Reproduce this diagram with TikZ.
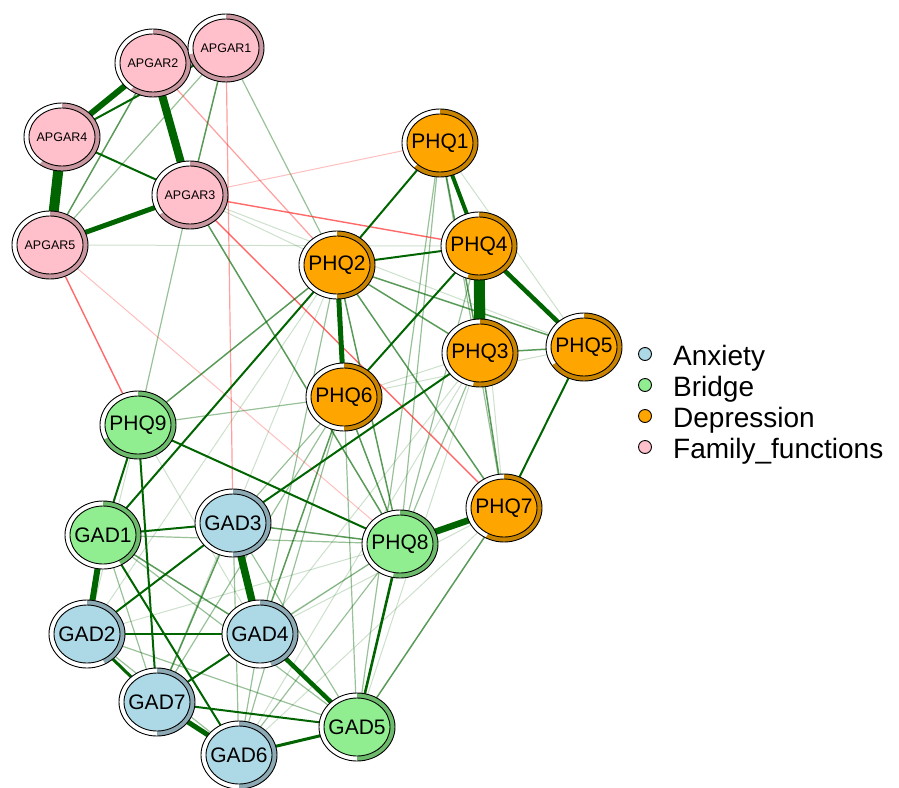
\documentclass[tikz,border=0pt]{standalone}
\usepackage{fontspec}
\setmainfont{Liberation Sans}
\usetikzlibrary{shapes.geometric,backgrounds}
\definecolor{posgreen}{HTML}{006400}
\definecolor{negred}{HTML}{FF2A2A}
\definecolor{anxfill}{HTML}{ADD8E6}
\definecolor{anxring}{HTML}{8CA9B4}
\definecolor{brgfill}{HTML}{90EE90}
\definecolor{brgring}{HTML}{6DBA6D}
\definecolor{depfill}{HTML}{FFA500}
\definecolor{depring}{HTML}{C88400}
\definecolor{famfill}{HTML}{FFC0CB}
\definecolor{famring}{HTML}{C8979F}
\tikzset{
  symptom/.style={ellipse, draw, line width=0.9pt, minimum width=66pt,
    minimum height=58pt, inner sep=0pt, font=\fontsize{21}{21}\selectfont},
  apgar/.style={font=\fontsize{12.5}{12.5}\selectfont},
  posedge/.style={draw=posgreen},
  e1/.style={posedge, line width=2pt},
  e2/.style={posedge, line width=1.5pt, draw opacity=.65},
  e3/.style={posedge, line width=1.2pt, draw opacity=.4},
  e4/.style={posedge, line width=1pt, draw opacity=.2},
  negedge/.style={draw=negred},
  n1/.style={negedge, line width=1.4pt, draw opacity=.7},
  n2/.style={negedge, line width=1.2pt, draw opacity=.45},
  n3/.style={negedge, line width=1pt, draw opacity=.3},
  legdot/.style={circle, draw, line width=0.9pt, minimum size=13pt, inner sep=0pt},
  legtext/.style={anchor=base west, inner sep=0pt, font=\fontsize{28}{28}\selectfont}
}
% name, x, y, label, group, share, extra
\newcommand\pienode[7]{%
  \fill[white] (#2,#3) ellipse [x radius=38pt, y radius=34pt];
  \fill[#5ring] (#2,#3) -- (#2,#3+34) arc[start angle=90, delta angle=-360*#6,
    x radius=38pt, y radius=34pt] -- cycle;
  \draw[line width=0.9pt] (#2,#3) ellipse [x radius=38pt, y radius=34pt];
  \node[symptom, fill=#5fill, #7] (#1) at (#2,#3) {\makebox[0pt]{#4}};
}

\begin{document}
\begin{tikzpicture}[x=1pt, y=1pt]
\useasboundingbox (0,0) rectangle (899,-787);

% family functions
\pienode{A2}{153}{-63}{APGAR2}{fam}{.6}{apgar}
\pienode{A1}{226}{-48}{APGAR1}{fam}{.72}{apgar}
\pienode{A4}{62}{-137}{APGAR4}{fam}{.6}{apgar}
\pienode{A3}{190}{-195}{APGAR3}{fam}{.65}{apgar}
\pienode{A5}{50}{-245}{APGAR5}{fam}{.6}{apgar}

% depression
\pienode{P1}{440}{-143}{PHQ1}{dep}{.62}{}
\pienode{P4}{479}{-246}{PHQ4}{dep}{.55}{}
\pienode{P2}{337}{-265}{PHQ2}{dep}{.5}{}
\pienode{P3}{480}{-353}{PHQ3}{dep}{.53}{}
\pienode{P5}{584}{-347}{PHQ5}{dep}{.66}{}
\pienode{P6}{344}{-397}{PHQ6}{dep}{.5}{}
\pienode{P7}{504}{-508}{PHQ7}{dep}{.58}{}

% bridge
\pienode{P9}{138}{-425}{PHQ9}{brg}{.68}{}
\pienode{P8}{400}{-544}{PHQ8}{brg}{.53}{}
\pienode{G1}{103}{-535}{GAD1}{brg}{.42}{}
\pienode{G5}{357}{-727}{GAD5}{brg}{.5}{}

% anxiety
\pienode{G3}{233}{-523}{GAD3}{anx}{.5}{}
\pienode{G2}{87}{-634}{GAD2}{anx}{.42}{}
\pienode{G4}{260}{-634}{GAD4}{anx}{.45}{}
\pienode{G7}{157}{-702}{GAD7}{anx}{.5}{}
\pienode{G6}{239}{-755}{GAD6}{anx}{.5}{}

\begin{pgfonlayer}{background}
% faintest
\foreach \a/\b in {A5/P4, A3/P2, A3/P5, P1/P5, P2/G2, P2/G7, P3/P6, P3/G4,
  P3/G6, P3/G5, P5/P6, P4/P7, P9/G4, P9/G2, P7/G4, P7/G6, P8/G7, P8/G2}
  \draw[e4] (\a) -- (\b);
% faint
\foreach \a/\b in {A5/A1, A1/P2, A3/P9, P1/P8, P1/G5, P1/P7, P2/G4, P3/P8,
  P4/P8, P6/P9, P6/G6, P6/G7, P6/G3, P6/G5, P8/G1, P8/G4, P8/G6, G1/G7,
  G1/G5, G3/G6, G3/G5, G2/G6, G2/G5, G4/G6}
  \draw[e3] (\a) -- (\b);
% negative
\foreach \a/\b in {A3/P1, A5/P8}
  \draw[n3] (\a) -- (\b);
\foreach \a/\b in {A1/G3, A2/P2}
  \draw[n2] (\a) -- (\b);
\foreach \a/\b in {A3/P4, A3/P7, A5/P9}
  \draw[n1] (\a) -- (\b);
% light
\foreach \a/\b in {A3/A1, A5/A2, A3/P8, P1/P3, P3/P5, P3/P7, P2/P5, P2/P3,
  P2/P7, P2/P9, P2/P8, P6/P8, P6/G4, P7/G5, P8/G3, G1/G4, G3/G7}
  \draw[e2] (\a) -- (\b);
% medium
\foreach \a/\b in {A4/A3, A4/A1, P1/P2, P2/P4, P4/P6, P3/G3, P5/P7, P2/G1,
  P9/G1, P9/G7, P9/P8, G1/G3, G1/G6, G3/G2, G2/G4, G4/G7, G7/G5}
  \draw[e1] (\a) -- (\b);
% strongest
\draw[posedge, line width=2.6pt] (P8) -- (G5);
\draw[posedge, line width=3pt] (G6) -- (G5);
\draw[posedge, line width=3pt] (G2) -- (G7);
\draw[posedge, line width=4pt] (P1) -- (P4);
\draw[posedge, line width=4.5pt] (P4) -- (P5);
\draw[posedge, line width=5pt] (P2) -- (P6);
\draw[posedge, line width=4.5pt] (G4) -- (G5);
\draw[posedge, line width=5pt] (G7) -- (G6);
\draw[posedge, line width=5pt] (A3) -- (A5);
\draw[posedge, line width=6pt] (A2) -- (A4);
\draw[posedge, line width=6.5pt] (P7) -- (P8);
\draw[posedge, line width=6pt] (G1) -- (G2);
\draw[posedge, line width=7.5pt] (G3) -- (G4);
\draw[posedge, line width=8pt] (A2) -- (A3);
\draw[posedge, line width=10pt] (A4) -- (A5);
\draw[posedge, line width=11pt] (P4) -- (P3);
\end{pgfonlayer}

% legend
\node[legdot, fill=anxfill] (lanx) at (645,-354) {};
\node[legdot, fill=brgfill] (lbrg) at (645,-385) {};
\node[legdot, fill=depfill] (ldep) at (645,-416) {};
\node[legdot, fill=famfill] (lfam) at (645,-447) {};
\node[legtext] (tanx) at (673,-365) {Anxiety};
\node[legtext] (tbrg) at (673,-396) {Bridge};
\node[legtext] (tdep) at (673,-427) {Depression};
\node[legtext] (tfam) at (673,-458) {Family\_functions};
\end{tikzpicture}
\end{document}
